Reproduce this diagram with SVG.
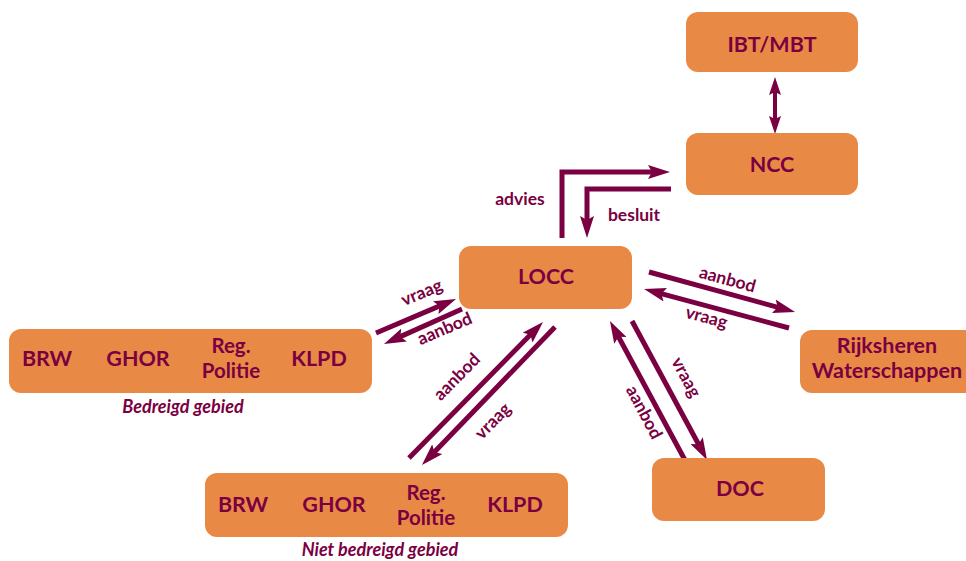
<svg xmlns="http://www.w3.org/2000/svg" width="966" height="561" viewBox="0 0 966 561">
<style>
.box{fill:#E88A45}
.t{font-family:Lato,"Open Sans","Liberation Sans",sans-serif;font-weight:700;fill:#7A0042;text-anchor:middle}
.n{font-size:21.5px}
.r{font-size:20.5px}
.l{font-size:17.5px}
.c{font-size:18px;font-style:italic}
.a{fill:none;stroke:#7A0042;stroke-width:5;marker-end:url(#ah)}
</style>
<defs>
<marker id="ah" viewBox="0 0 22 14" refX="12" refY="7" markerWidth="22" markerHeight="14" markerUnits="userSpaceOnUse" orient="auto">
<path d="M0,0 L22,7 L0,14 L4,7 z" fill="#7A0042"/>
</marker>
<marker id="sh" viewBox="0 0 18 12" refX="8" refY="6" markerWidth="18" markerHeight="12" markerUnits="userSpaceOnUse" orient="auto-start-reverse">
<path d="M0,0 L18,6 L0,12 L3,6 z" fill="#7A0042"/>
</marker>
</defs>
<rect width="966" height="561" fill="#FFFFFF"/>
<g id="connectors">
<path class="a" d="M562,238 V172 H660"/>
<path class="a" d="M671,189 H587 V228"/>
<line x1="775" y1="87" x2="775" y2="124" stroke="#7A0042" stroke-width="4" marker-start="url(#sh)" marker-end="url(#sh)"/>
<path class="a" d="M376,333 L446.8,302.9"/>
<path class="a" d="M462,309 L393.1,339.9"/>
<path class="a" d="M409,458 L536,329.1"/>
<path class="a" d="M555,327 L428.9,457.8"/>
<path class="a" d="M686,462 L614.7,329.8"/>
<path class="a" d="M632,321 L702.3,451.2"/>
<path class="a" d="M649,272 L785.4,309.4"/>
<path class="a" d="M789,328 L653.7,291.6"/>
<text class="t l" x="520" y="205">advies</text>
<text class="t l" x="634" y="221">besluit</text>
<text class="t l" transform="translate(424,298) rotate(-23)">vraag</text>
<text class="t l" transform="translate(447,334) rotate(-23)">aanbod</text>
<text class="t l" transform="translate(461,381) rotate(-45.5)">aanbod</text>
<text class="t l" transform="translate(497,425) rotate(-45.5)">vraag</text>
<text class="t l" transform="translate(681,380) rotate(62)">vraag</text>
<text class="t l" transform="translate(639,415) rotate(62)">aanbod</text>
<text class="t l" transform="translate(726,285) rotate(15)">aanbod</text>
<text class="t l" transform="translate(705,323) rotate(15)">vraag</text>
</g>
<g id="ibt">
<rect class="box" x="686" y="12" width="172" height="60" rx="12"/>
<text class="t n" x="772" y="52">IBT/MBT</text>
</g>
<g id="ncc">
<rect class="box" x="686" y="133" width="172" height="62" rx="12"/>
<text class="t n" x="772" y="172">NCC</text>
</g>
<g id="locc">
<rect class="box" x="459" y="246" width="173" height="63" rx="12"/>
<text class="t n" x="546" y="284">LOCC</text>
</g>
<g id="bedreigd">
<rect class="box" x="9" y="329" width="363" height="64" rx="12"/>
<text class="t n" x="47" y="366">BRW</text>
<text class="t n" x="138" y="366">GHOR</text>
<text class="t r" x="231" y="353">Reg.</text>
<text class="t r" x="231" y="378">Politie</text>
<text class="t n" x="319" y="366">KLPD</text>
<text class="t c" x="183" y="413">Bedreigd gebied</text>
</g>
<g id="nietbedreigd">
<rect class="box" x="205" y="473" width="363" height="64" rx="12"/>
<text class="t n" x="243" y="512">BRW</text>
<text class="t n" x="334" y="512">GHOR</text>
<text class="t r" x="426" y="500">Reg.</text>
<text class="t r" x="426" y="525">Politie</text>
<text class="t n" x="515" y="512">KLPD</text>
<text class="t c" x="380" y="556">Niet bedreigd gebied</text>
</g>
<g id="rijksheren">
<rect class="box" x="800" y="330" width="180" height="63" rx="12"/>
<text class="t n" x="887" y="353">Rijksheren</text>
<text class="t n" x="887" y="378">Waterschappen</text>
</g>
<g id="doc">
<rect class="box" x="652" y="458" width="173" height="63" rx="12"/>
<text class="t n" x="740" y="496">DOC</text>
</g>
</svg>
